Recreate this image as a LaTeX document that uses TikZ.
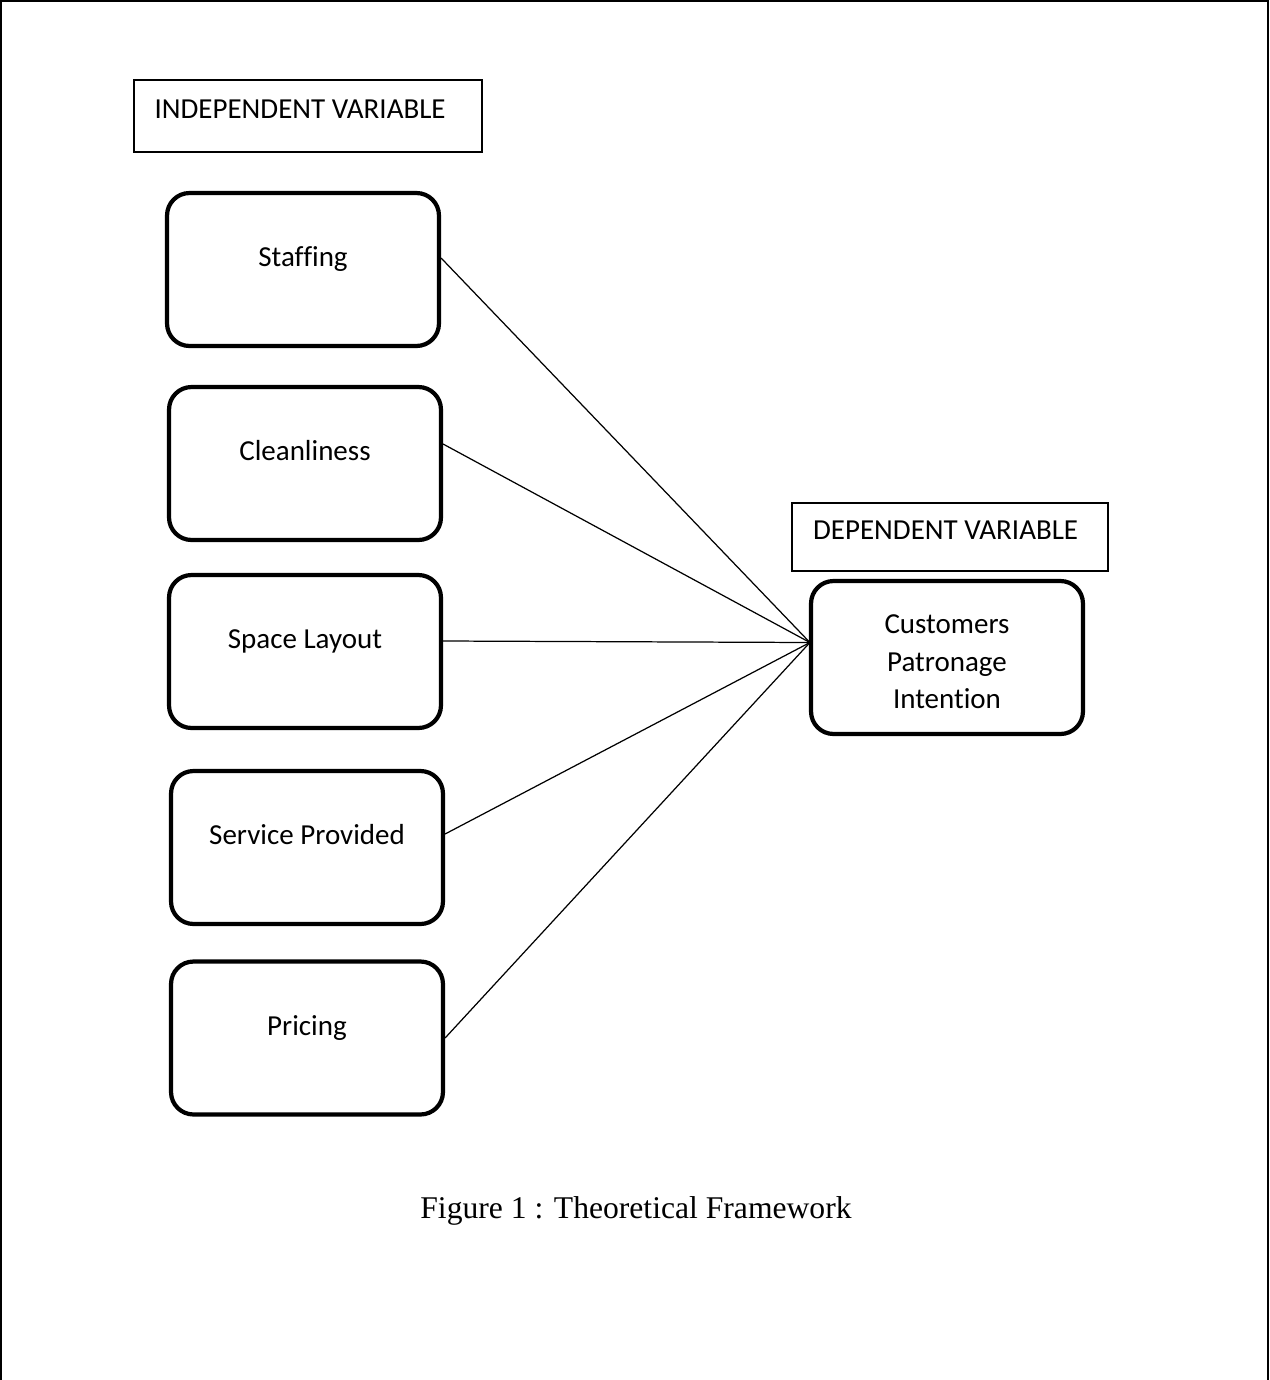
\documentclass[tikz,border=0pt]{standalone}
\usepackage{fontspec}
\setmainfont{Carlito}[Ligatures=CommonOff]
\newfontfamily\capfont{Liberation Serif}
\usetikzlibrary{calc}

\begin{document}
\begin{tikzpicture}[x=0.02cm,y=-0.02cm,
  font=\fontsize{16.5}{21.3}\selectfont,
  varbox/.style={draw,line width=2.4pt,rounded corners=0.45cm,
    minimum width=5.44cm,minimum height=3.06cm,inner sep=0pt},
  ivbox/.style={varbox,text height=12pt,text depth=15pt},
  headbox/.style={draw,line width=0.8pt,inner sep=0pt,
    text height=12pt,text depth=9pt},
  link/.style={line width=0.7pt}]
\useasboundingbox (0,0) rectangle (1270,1380);
% Rahmen (unten offen)
\draw[line width=1.3pt] (1,1380) -- (1,1) -- (1268,1) -- (1268,1380);
% Kopfzeilen
\node[headbox,minimum width=6.96cm,minimum height=1.44cm] (indep) at (308,116) {INDEPENDENT VARIABLE\rule{9pt}{0pt}};
\node[headbox,minimum width=6.32cm,minimum height=1.36cm] (dep) at (950,537) {DEPENDENT VARIABLE\rule{5pt}{0pt}};
% unabhaengige Variablen
\node[ivbox] (staff) at (303,269.5) {Staffing};
\node[ivbox] (clean) at (305,463.5) {Cleanliness};
\node[ivbox] (space) at (305,651.5) {Space Layout};
\node[ivbox] (serv)  at (307,847.5) {Service Provided};
\node[ivbox] (price) at (307,1038)  {Pricing};
% abhaengige Variable
\node[varbox,align=center] (cust) at (947,657.5) {\rule{0pt}{15.5pt}Customers\\Patronage\\Intention};
\coordinate (hub) at ($(cust.west)+(1,-15)$);
% Verbindungen
\foreach \n/\dy in {staff/-11.5,clean/-19.5,space/-10.5,serv/-13.5,price/0}{
  \draw[link] ($(\n.east)+(0,\dy)$) -- (hub);
}
% Bildunterschrift
\node[font=\capfont\fontsize{18}{21}\selectfont] (caption) at (636,1211) {Figure 1 : Theoretical Framework};
\end{tikzpicture}
\end{document}
